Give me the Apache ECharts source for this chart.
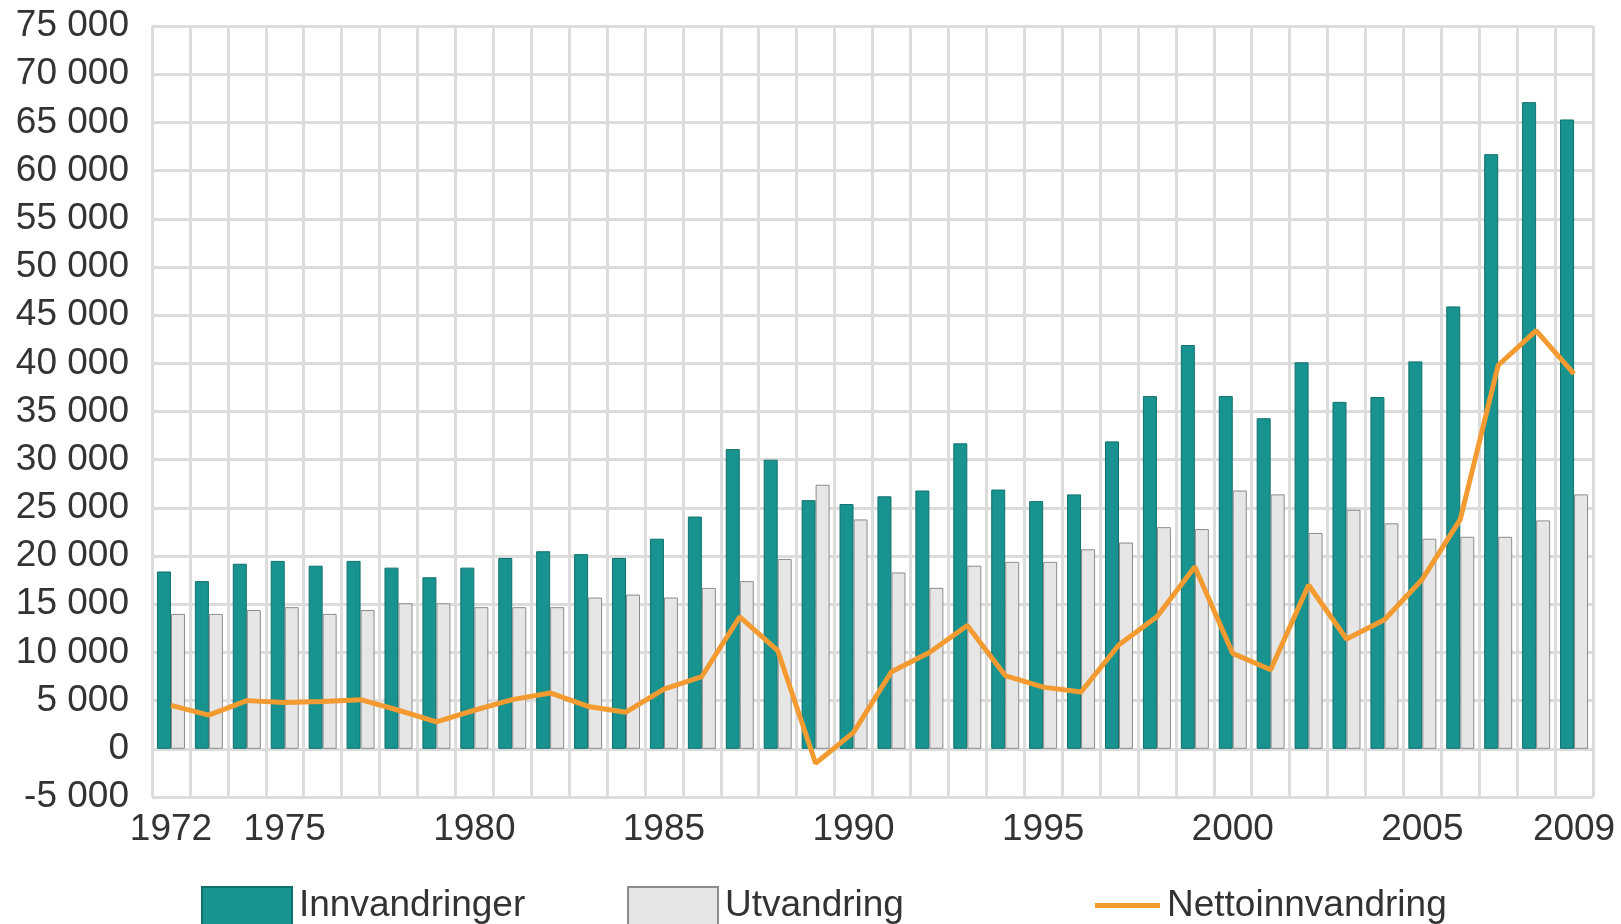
<!DOCTYPE html>
<html>
<head>
<meta charset="utf-8">
<script src="https://cdn.jsdelivr.net/npm/echarts@6/dist/echarts.min.js"></script>
<style>
  html, body { margin: 0; padding: 0; background: #fff; }
  #container { width: 1621px; height: 924px; }
</style>
</head>
<body>
<div id="container"></div>
<script>
  // år (kategorier)
  var years = ['1972', '1973', '1974', '1975', '1976', '1977', '1978', '1979', '1980', '1981',
    '1982', '1983', '1984', '1985', '1986', '1987', '1988', '1989', '1990', '1991',
    '1992', '1993', '1994', '1995', '1996', '1997', '1998', '1999', '2000', '2001',
    '2002', '2003', '2004', '2005', '2006', '2007', '2008', '2009']
  // år som får etikett på x-aksen
  var labelYears = ['1972', '1975', '1980', '1985', '1990', '1995', '2000', '2005', '2009']

  var innvandringer = [18400, 17400, 19200, 19500, 19000, 19500, 18800, 17800, 18800, 19800,
    20500, 20200, 19800, 21800, 24100, 31100, 30000, 25800, 25400, 26200,
    26800, 31700, 26900, 25700, 26400, 31900, 36600, 41900, 36600, 34300,
    40100, 36000, 36500, 40200, 45900, 61700, 67100, 65300]
  var utvandring = [14000, 14000, 14400, 14700, 14000, 14400, 15100, 15100, 14700, 14700,
    14700, 15700, 16000, 15700, 16700, 17400, 19700, 27400, 23800, 18300,
    16700, 19000, 19400, 19400, 20700, 21400, 23000, 22800, 26800, 26400,
    22400, 24800, 23400, 21800, 22000, 22000, 23700, 26400]
  var netto = [4500, 3500, 5000, 4800, 4900, 5100, 4000, 2800, 4000, 5100,
    5800, 4400, 3800, 6200, 7500, 13700, 10200, -1500, 1700, 8000,
    10000, 12800, 7600, 6400, 5900, 10800, 13700, 18900, 9900, 8200,
    17000, 11400, 13400, 17600, 23800, 39800, 43400, 38900]

  var textColor = '#333'
  var fontFamily = 'Liberation Sans, Arial, sans-serif'
  var gridColor = '#dcdcdc'

  // legend-oppsett, én per serie for å styre plasseringen
  function legendFor(name, left, top, w, h) {
    return {
      data: [name],
      left: left,
      top: top,
      padding: 0,
      itemWidth: w,
      itemHeight: h,
      icon: 'rect',
      selectedMode: false,
      textStyle: { fontSize: 37, color: textColor, fontFamily: fontFamily, padding: [0, 0, 12, 2] }
    }
  }

  var myChart = echarts.init(document.getElementById('container'))
  myChart.setOption({
    animation: false,
    legend: [
      legendFor('Innvandringer', 201, 886, 90, 38),
      legendFor('Utvandring', 627, 886, 90, 38),
      legendFor('Nettoinnvandring', 1095, 887, 65, 5)
    ],
    grid: {
      left: 152,
      right: 28,
      top: 26,
      bottom: 127
    },
    xAxis: {
      type: 'category',
      data: years,
      boundaryGap: true,
      axisLine: { show: false },
      axisTick: { show: false },
      axisLabel: {
        interval: function (index, value) {
          return labelYears.indexOf(value) >= 0
        },
        margin: 14,
        fontSize: 37,
        color: textColor,
        fontFamily: fontFamily
      },
      splitLine: {
        show: true,
        interval: 0,
        lineStyle: { color: gridColor, width: 3 }
      }
    },
    yAxis: {
      type: 'value',
      min: -5000,
      max: 75000,
      interval: 5000,
      axisLine: { show: false },
      axisTick: { show: false },
      axisLabel: {
        margin: 23,
        fontSize: 37,
        color: textColor,
        fontFamily: fontFamily,
        formatter: function (v) {
          var s = String(Math.abs(v)).replace(/\B(?=(\d{3})+(?!\d))/g, ' ')
          return (v < 0 ? '-' : '') + s
        }
      },
      splitLine: {
        lineStyle: { color: gridColor, width: 3 }
      }
    },
    series: [{
        name: 'Innvandringer',
        type: 'bar',
        barWidth: 14,
        barGap: '0%',
        itemStyle: {
          color: '#18938f',
          borderColor: '#0f716e',
          borderWidth: 1
        },
        data: innvandringer
      },
      {
        name: 'Utvandring',
        type: 'bar',
        barWidth: 14,
        itemStyle: {
          color: '#e6e6e6',
          borderColor: '#8c8c8c',
          borderWidth: 1
        },
        data: utvandring
      },
      {
        name: 'Nettoinnvandring',
        type: 'line',
        symbol: 'none',
        z: 5,
        itemStyle: { color: '#f39b30' },
        lineStyle: { color: '#f39b30', width: 5 },
        data: netto
      }
    ]
  })
</script>
</body>
</html>
